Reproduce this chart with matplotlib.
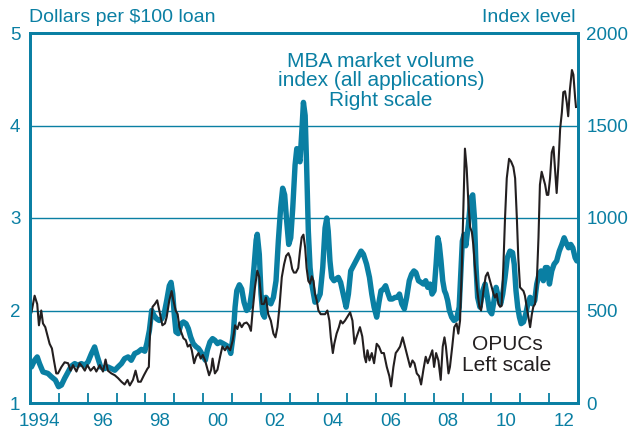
import matplotlib.pyplot as plt

teal = '#0a7fa3'
dark = '#231f20'

# OPUCs, dollars per $100 loan (left scale)
opuc_t = [1994.05, 1994.16, 1994.25, 1994.31, 1994.39, 1994.45, 1994.53, 1994.62, 1994.68, 1994.76,
          1994.83, 1994.91, 1994.97, 1995.09, 1995.20, 1995.32, 1995.41, 1995.49, 1995.61, 1995.72,
          1995.82, 1995.90, 1995.99, 1996.10, 1996.22, 1996.30, 1996.42, 1996.53, 1996.62, 1996.70,
          1996.82, 1996.94, 1997.05, 1997.17, 1997.28, 1997.38, 1997.46, 1997.57, 1997.66, 1997.75,
          1997.84, 1997.95, 1998.07, 1998.12, 1998.16, 1998.25, 1998.33, 1998.41, 1998.51, 1998.59,
          1998.68, 1998.74, 1998.83, 1998.91, 1998.97, 1999.05, 1999.12, 1999.18, 1999.26, 1999.32,
          1999.40, 1999.47, 1999.55, 1999.61, 1999.69, 1999.76, 1999.84, 1999.92, 1999.99, 2000.07,
          2000.13, 2000.21, 2000.28, 2000.33, 2000.41, 2000.50, 2000.59, 2000.67, 2000.76, 2000.84,
          2000.94, 2001.03, 2001.11, 2001.19, 2001.26, 2001.34, 2001.42, 2001.51, 2001.59, 2001.66,
          2001.72, 2001.80, 2001.88, 2001.95, 2002.03, 2002.11, 2002.18, 2002.26, 2002.35, 2002.44,
          2002.51, 2002.58, 2002.65, 2002.73, 2002.81, 2002.88, 2002.96, 2003.02, 2003.09, 2003.15,
          2003.22, 2003.30, 2003.36, 2003.42, 2003.48, 2003.54, 2003.59, 2003.65, 2003.71, 2003.77,
          2003.83, 2003.88, 2003.94, 2004.00, 2004.08, 2004.15, 2004.23, 2004.31, 2004.38, 2004.43,
          2004.50, 2004.55, 2004.63, 2004.71, 2004.77, 2004.84, 2004.92, 2005.00, 2005.10, 2005.18,
          2005.25, 2005.33, 2005.44, 2005.52, 2005.60, 2005.65, 2005.70, 2005.77, 2005.85, 2005.93,
          2006.02, 2006.10, 2006.19, 2006.27, 2006.37, 2006.46, 2006.52, 2006.60, 2006.68, 2006.75,
          2006.83, 2006.92, 2007.00, 2007.09, 2007.18, 2007.26, 2007.33, 2007.41, 2007.49, 2007.56,
          2007.64, 2007.72, 2007.79, 2007.87, 2007.95, 2008.01, 2008.08, 2008.16, 2008.24, 2008.31,
          2008.37, 2008.42, 2008.51, 2008.56, 2008.64, 2008.71, 2008.79, 2008.85, 2008.91, 2008.97,
          2009.03, 2009.08, 2009.14, 2009.20, 2009.26, 2009.32, 2009.37, 2009.43, 2009.51, 2009.58,
          2009.64, 2009.72, 2009.80, 2009.87, 2009.95, 2010.01, 2010.07, 2010.12, 2010.18, 2010.24,
          2010.30, 2010.35, 2010.41, 2010.47, 2010.53, 2010.61, 2010.68, 2010.76, 2010.82, 2010.88,
          2010.93, 2010.99, 2011.05, 2011.11, 2011.16, 2011.22, 2011.28, 2011.34, 2011.40, 2011.45,
          2011.51, 2011.57, 2011.63, 2011.68, 2011.74, 2011.80, 2011.86, 2011.92, 2011.97, 2012.03,
          2012.09, 2012.15, 2012.20, 2012.26, 2012.32, 2012.38, 2012.44, 2012.49, 2012.55, 2012.61,
          2012.66, 2012.72, 2012.79, 2012.84, 2012.90, 2012.93]
opuc_v = [1.98, 2.16, 2.07, 1.84, 2.00, 1.86, 1.82, 1.71, 1.64, 1.59,
          1.46, 1.32, 1.32, 1.39, 1.44, 1.43, 1.35, 1.41, 1.34, 1.43,
          1.39, 1.35, 1.41, 1.35, 1.39, 1.34, 1.41, 1.34, 1.47, 1.35,
          1.32, 1.30, 1.27, 1.23, 1.20, 1.25, 1.19, 1.25, 1.35, 1.23,
          1.23, 1.30, 1.37, 1.39, 1.75, 2.04, 2.07, 2.11, 1.96, 1.84,
          1.86, 1.93, 2.11, 2.21, 2.11, 2.00, 1.96, 1.82, 1.75, 1.70,
          1.68, 1.61, 1.63, 1.57, 1.43, 1.50, 1.54, 1.48, 1.52, 1.46,
          1.39, 1.30, 1.36, 1.48, 1.32, 1.36, 1.50, 1.61, 1.57, 1.61,
          1.57, 1.68, 1.84, 1.80, 1.87, 1.82, 1.86, 1.87, 1.84, 1.78,
          2.00, 2.25, 2.43, 2.36, 2.07, 2.07, 2.14, 1.96, 1.89, 1.75,
          1.71, 1.82, 2.04, 2.36, 2.50, 2.59, 2.62, 2.57, 2.45, 2.41,
          2.41, 2.46, 2.64, 2.79, 2.82, 2.68, 2.46, 2.32, 2.29, 2.37,
          2.32, 2.18, 2.11, 2.00, 1.96, 1.96, 1.96, 2.00, 1.89, 1.71,
          1.54, 1.64, 1.75, 1.82, 1.89, 1.86, 1.89, 1.93, 1.98, 1.89,
          1.64, 1.72, 1.82, 1.72, 1.50, 1.44, 1.57, 1.46, 1.54, 1.43,
          1.64, 1.61, 1.54, 1.54, 1.39, 1.29, 1.18, 1.39, 1.54, 1.57,
          1.61, 1.71, 1.61, 1.50, 1.39, 1.46, 1.43, 1.32, 1.29, 1.20,
          1.36, 1.50, 1.43, 1.50, 1.57, 1.39, 1.54, 1.46, 1.25, 1.61,
          1.71, 1.61, 1.32, 1.39, 1.61, 1.82, 1.86, 1.75, 1.89, 2.45,
          3.16, 3.75, 3.54, 3.16, 2.90, 2.85, 2.71, 2.46, 2.21, 2.04,
          2.00, 2.21, 2.37, 2.41, 2.32, 2.25, 2.18, 2.14, 2.18, 2.07,
          2.04, 2.05, 2.46, 3.00, 3.43, 3.64, 3.61, 3.55, 3.43, 3.00,
          2.57, 2.25, 2.23, 2.21, 2.16, 2.04, 1.93, 1.82, 1.96, 2.04,
          2.07, 2.29, 2.79, 3.36, 3.50, 3.43, 3.36, 3.25, 3.25, 3.43,
          3.71, 3.77, 3.54, 3.27, 3.57, 3.96, 4.14, 4.36, 4.37, 4.25,
          4.10, 4.39, 4.60, 4.55, 4.30, 4.20]

# MBA market volume index, all applications (right scale)
mba_t = [1994.05, 1994.16, 1994.25, 1994.33, 1994.45, 1994.62, 1994.74, 1994.88, 1994.99, 1995.09,
         1995.20, 1995.32, 1995.43, 1995.55, 1995.66, 1995.78, 1995.90, 1996.01, 1996.13, 1996.24,
         1996.34, 1996.45, 1996.59, 1996.70, 1996.82, 1996.94, 1997.05, 1997.17, 1997.28, 1997.40,
         1997.51, 1997.63, 1997.75, 1997.86, 1997.98, 1998.05, 1998.14, 1998.22, 1998.30, 1998.39,
         1998.48, 1998.57, 1998.65, 1998.74, 1998.83, 1998.89, 1998.95, 1999.00, 1999.06, 1999.14,
         1999.24, 1999.32, 1999.41, 1999.49, 1999.57, 1999.66, 1999.76, 1999.84, 1999.92, 2000.01,
         2000.08, 2000.15, 2000.24, 2000.33, 2000.41, 2000.50, 2000.59, 2000.70, 2000.80, 2000.88,
         2000.96, 2001.05, 2001.11, 2001.17, 2001.26, 2001.34, 2001.42, 2001.51, 2001.61, 2001.69,
         2001.77, 2001.84, 2001.88, 2001.95, 2002.01, 2002.07, 2002.13, 2002.18, 2002.26, 2002.35,
         2002.44, 2002.53, 2002.61, 2002.69, 2002.76, 2002.83, 2002.90, 2002.97, 2003.04, 2003.11,
         2003.19, 2003.25, 2003.30, 2003.36, 2003.43, 2003.48, 2003.54, 2003.59, 2003.65, 2003.71,
         2003.77, 2003.83, 2003.88, 2003.96, 2004.06, 2004.15, 2004.23, 2004.29, 2004.34, 2004.40,
         2004.46, 2004.54, 2004.61, 2004.69, 2004.77, 2004.86, 2004.96, 2005.04, 2005.12, 2005.21,
         2005.30, 2005.39, 2005.48, 2005.56, 2005.67, 2005.77, 2005.85, 2005.93, 2006.02, 2006.10,
         2006.17, 2006.25, 2006.33, 2006.40, 2006.48, 2006.56, 2006.66, 2006.74, 2006.81, 2006.89,
         2006.98, 2007.06, 2007.15, 2007.23, 2007.31, 2007.38, 2007.47, 2007.56, 2007.64, 2007.72,
         2007.79, 2007.87, 2007.94, 2008.01, 2008.08, 2008.14, 2008.19, 2008.25, 2008.31, 2008.37,
         2008.42, 2008.48, 2008.54, 2008.62, 2008.70, 2008.79, 2008.88, 2008.93, 2008.99, 2009.05,
         2009.11, 2009.20, 2009.28, 2009.35, 2009.41, 2009.46, 2009.52, 2009.60, 2009.70, 2009.78,
         2009.86, 2009.93, 2010.01, 2010.07, 2010.16, 2010.24, 2010.32, 2010.39, 2010.47, 2010.55,
         2010.64, 2010.73, 2010.79, 2010.85, 2010.91, 2010.97, 2011.03, 2011.11, 2011.19, 2011.26,
         2011.34, 2011.42, 2011.50, 2011.57, 2011.65, 2011.72, 2011.80, 2011.87, 2011.94, 2012.01,
         2012.09, 2012.17, 2012.26, 2012.35, 2012.44, 2012.52, 2012.59, 2012.67, 2012.75, 2012.82,
         2012.90, 2012.96]
mba_v = [195, 231, 249, 213, 168, 160, 142, 124, 88, 97,
         133, 168, 199, 213, 204, 213, 204, 222, 267, 303,
         249, 195, 186, 195, 186, 177, 195, 213, 240, 249,
         231, 267, 276, 290, 280, 321, 393, 500, 473, 455,
         446, 455, 482, 554, 634, 652, 589, 482, 384, 375,
         429, 438, 429, 402, 357, 321, 304, 295, 277, 250,
         232, 286, 330, 348, 339, 321, 330, 321, 312, 304,
         268, 375, 518, 607, 639, 616, 545, 500, 518, 600,
         740, 880, 912, 804, 589, 482, 464, 571, 554, 536,
         571, 661, 875, 1054, 1161, 1125, 982, 857, 893, 1054,
         1286, 1375, 1339, 1304, 1482, 1625, 1554, 1286, 929, 732,
         643, 589, 545, 554, 589, 732, 946, 1000, 929, 768,
         679, 661, 670, 679, 652, 589, 518, 589, 714, 741,
         768, 795, 821, 804, 750, 679, 589, 518, 464, 545,
         607, 616, 634, 598, 562, 562, 571, 571, 589, 536,
         509, 571, 661, 696, 714, 705, 661, 652, 643, 661,
         625, 643, 589, 607, 750, 893, 857, 768, 661, 607,
         589, 554, 500, 464, 446, 455, 518, 679, 875, 911,
         850, 964, 1107, 1125, 1000, 750, 571, 518, 607, 643,
         571, 500, 482, 536, 625, 571, 536, 589, 679, 786,
         821, 813, 750, 607, 518, 464, 429, 438, 482, 536,
         571, 536, 554, 643, 696, 714, 661, 732, 732, 643,
         714, 750, 768, 821, 857, 893, 866, 839, 857, 839,
         786, 768]

year_ticks = list(range(1994, 2014))
year_label_pos = [1994.31, 1996.5, 1998.5, 2000.5, 2002.5, 2004.5, 2006.5, 2008.5, 2010.5, 2012.5]
year_labels = ['1994', '96', '98', '00', '02', '04', '06', '08', '10', '12']
left_ticks = [1, 2, 3, 4, 5]
right_ticks = [0, 500, 1000, 1500, 2000]

plt.rcParams['font.family'] = 'Liberation Sans'

fig = plt.figure(figsize=(6.39, 4.32), dpi=100)
ax1 = fig.add_axes([30 / 639, 29 / 432, 548 / 639, 370 / 432])
ax2 = ax1.twinx()
ax1.set_zorder(ax2.get_zorder() + 1)
ax1.patch.set_visible(False)

ax2.plot(mba_t, mba_v, color=teal, lw=3.9, solid_joinstyle='round', solid_capstyle='round')
ax1.plot(opuc_t, opuc_v, color=dark, lw=1.5)

ax1.set_xlim(1994, 2013)
ax1.set_ylim(1, 5)
ax2.set_ylim(0, 2000)

ax2.set_yticks(right_ticks)
ax2.yaxis.grid(True, color=teal, lw=1)
ax1.set_yticks(left_ticks)

for ax in (ax1, ax2):
    for s in ax.spines.values():
        s.set_color(teal)
        s.set_linewidth(2)

ax1.set_xticks(year_ticks, [''] * len(year_ticks))
ax1.set_xticks(year_label_pos, year_labels, minor=True)
ax1.tick_params(axis='x', which='major', direction='in', length=7, width=1.3, color=teal)
ax1.tick_params(axis='x', which='minor', length=0, pad=7.5, labelcolor=teal, labelsize=13.5)
ax1.tick_params(axis='y', length=0, pad=7, labelcolor=teal, labelsize=13.5)
ax2.tick_params(axis='y', length=0, pad=6, labelcolor=teal, labelsize=13.5)

fig.text(29 / 639, 1 - 18 / 432, 'Dollars per $100 loan', color=teal, fontsize=14,
         ha='left', va='center')
fig.text(576 / 639, 1 - 18 / 432, 'Index level', color=teal, fontsize=14,
         ha='right', va='center')
fig.text(381 / 639, 1 - 81 / 432, 'MBA market volume\nindex (all applications)\nRight scale',
         color=teal, fontsize=15, ha='center', va='center', ma='center', linespacing=1.02)
fig.text(507 / 639, 1 - 355 / 432, 'OPUCs\nLeft scale', color=dark, fontsize=15,
         ha='center', va='center', ma='center', linespacing=1.1)

fig.savefig('out.png', dpi=100)
